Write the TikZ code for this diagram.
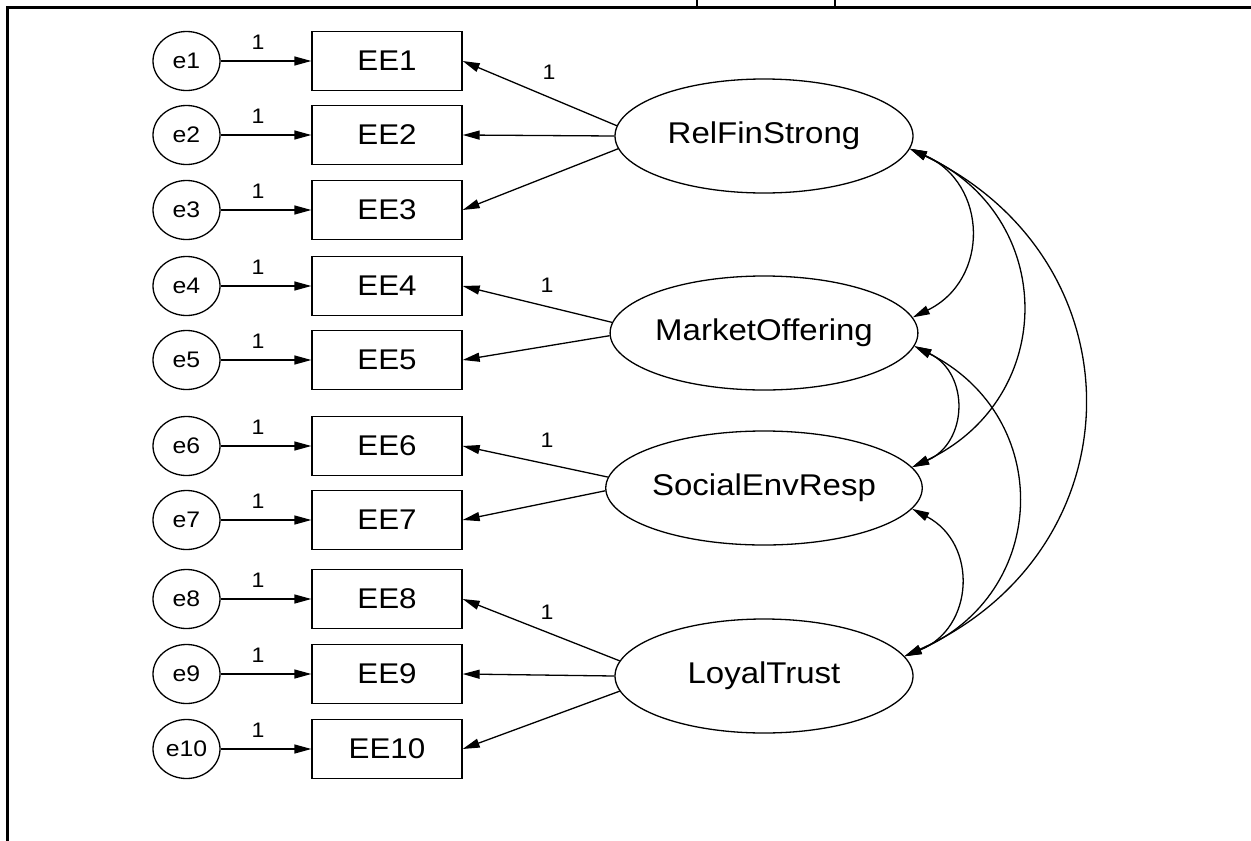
\documentclass[tikz,border=0pt]{standalone}
\usepackage{fontspec}
\setmainfont{Liberation Sans}
\newfontfamily\diagfont[FakeStretch=1.1]{Liberation Sans}
\usetikzlibrary{arrows.meta,shapes.geometric}

\begin{document}
\begin{tikzpicture}[x=1pt,y=-1pt,
  obs/.style={draw,line width=1.3pt,minimum width=150pt,minimum height=59pt,inner sep=0pt,
    font=\diagfont\fontsize{28.5}{30}\selectfont},
  err/.style={draw,ellipse,line width=1.3pt,minimum width=67pt,minimum height=59pt,inner sep=0pt,
    font=\diagfont\fontsize{22.5}{24}\selectfont},
  lat/.style={draw,ellipse,line width=1.3pt,minimum width=298pt,minimum height=114pt,inner sep=0pt,
    font=\diagfont\fontsize{30}{32}\selectfont},
  tip/.tip={Triangle[length=17pt,width=9pt]},
  path/.style={line width=1.3pt,-tip},
  cov/.style={line width=1.3pt,tip-tip,bend left=65,looseness=1.3},
  one/.style={inner sep=0pt,font=\diagfont\fontsize{21}{22}\selectfont}]

\useasboundingbox (0,0) rectangle (1251,841);

% frame of the figure
\draw[line width=3pt] (7,841) -- (7,7) -- (1251,7);
\draw[line width=2.5pt] (697,0) -- (697,7);
\draw[line width=2.5pt] (835,0) -- (835,7);

% indicators, their error terms and fixed weights
\foreach \i/\y in {1/61,2/135,3/210,4/286,5/360,6/446,7/520,8/599,9/674,10/749}{
  \node[obs] (EE\i) at (387,\y) {EE\i};
  \node[err] (e\i) at (186.5,\y) {e\i};
  \draw[path] (e\i) -- (EE\i);
  \node[one] (w\i) at (258,\y-19) {1};
}

% latent factors
\node[lat] (RFS) at (764,136) {RelFinStrong};
\node[lat] (MO)  at (764,333) {MarketOffering};
\node[lat] (SER) at (764,488) {SocialEnvResp};
\node[lat] (LT)  at (764,676) {LoyalTrust};

% factor loadings
\draw[path] (RFS.176) -- (EE1.east);
\draw[path] (RFS.west) -- (EE2.east);
\draw[path] (RFS.185) -- (EE3.east);
\draw[path] (MO.176) -- (EE4.east);
\draw[path] (MO.181) -- (EE5.east);
\draw[path] (SER.176) -- (EE6.east);
\draw[path] (SER.181) -- (EE7.east);
\draw[path] (LT.174) -- (EE8.east);
\draw[path] (LT.west) -- (EE9.east);
\draw[path] (LT.186) -- (EE10.east);

\node[one] (l1) at (549,72) {1};
\node[one] (l4) at (547,285) {1};
\node[one] (l6) at (547,440) {1};
\node[one] (l8) at (547,612) {1};

% factor covariances
\draw[cov] (RFS.-5) to (MO.6);
\draw[cov] (RFS.-5) to (SER.8);
\draw[cov] (RFS.-5) to (LT.8);
\draw[cov] (MO.-5) to (SER.8);
\draw[cov] (MO.-5) to (LT.8);
\draw[cov] (SER.-8) to (LT.8);
\end{tikzpicture}
\end{document}
